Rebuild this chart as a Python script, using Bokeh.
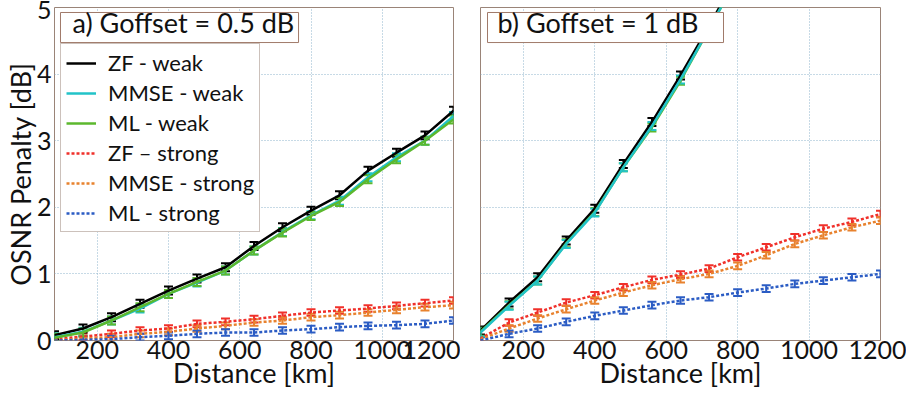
from bokeh.plotting import figure
from bokeh.layouts import row
from bokeh.models import Label, Legend, LegendItem, Whisker, ColumnDataSource, TeeHead, FixedTicker, BoxAnnotation
from bokeh.embed import file_html
from bokeh.resources import INLINE

distance = [80, 160, 240, 320, 400, 480, 560, 640, 720, 800, 880, 960, 1040, 1120, 1200]

# panel a) Goffset = 0.5 dB
a_zf_weak = [0.08, 0.18, 0.35, 0.55, 0.75, 0.93, 1.10, 1.42, 1.70, 1.95, 2.18, 2.55, 2.82, 3.08, 3.45]
a_mmse_weak = [0.05, 0.13, 0.30, 0.48, 0.70, 0.87, 1.05, 1.35, 1.63, 1.88, 2.10, 2.45, 2.75, 3.00, 3.37]
a_ml_weak = [0.04, 0.12, 0.30, 0.50, 0.70, 0.88, 1.05, 1.35, 1.62, 1.87, 2.08, 2.42, 2.72, 3.00, 3.32]
a_zf_strong = [0.02, 0.06, 0.10, 0.15, 0.18, 0.25, 0.28, 0.32, 0.37, 0.42, 0.45, 0.48, 0.52, 0.56, 0.60]
a_mmse_strong = [0.00, 0.03, 0.05, 0.10, 0.13, 0.18, 0.22, 0.27, 0.30, 0.35, 0.38, 0.42, 0.46, 0.50, 0.53]
a_ml_strong = [0.00, 0.01, 0.02, 0.05, 0.07, 0.10, 0.12, 0.12, 0.15, 0.17, 0.20, 0.22, 0.23, 0.25, 0.30]

# panel b) Goffset = 1 dB
b_weak_distance = [80, 160, 240, 320, 400, 480, 560, 640, 720, 800]
b_zf_weak = [0.15, 0.57, 0.95, 1.50, 1.98, 2.65, 3.28, 3.98, 4.72, 5.50]
b_mmse_weak = [0.12, 0.52, 0.90, 1.45, 1.92, 2.60, 3.22, 3.92, 4.68, 5.45]
b_ml_weak = [0.13, 0.53, 0.90, 1.46, 1.93, 2.60, 3.20, 3.90, 4.68, 5.45]
b_zf_strong = [0.03, 0.27, 0.42, 0.57, 0.68, 0.80, 0.91, 0.99, 1.08, 1.25, 1.40, 1.55, 1.68, 1.78, 1.90]
b_mmse_strong = [0.02, 0.18, 0.33, 0.47, 0.60, 0.72, 0.83, 0.92, 1.00, 1.12, 1.28, 1.45, 1.58, 1.70, 1.80]
b_ml_strong = [0.00, 0.10, 0.18, 0.28, 0.37, 0.45, 0.53, 0.60, 0.65, 0.72, 0.78, 0.85, 0.90, 0.95, 1.00]

err_weak = 0.06
err_strong = 0.05

names = ["ZF - weak", "MMSE - weak", "ML - weak", "ZF \u2013 strong", "MMSE - strong", "ML - strong"]
colors = ["#000000", "#22c3c8", "#5cb82e", "#f0302a", "#e8822e", "#2b5cc4"]
dashes = ["solid", "solid", "solid", "3 2", "3 2", "3 2"]
titles = ["a) Goffset = 0.5 dB", "b) Goffset = 1 dB"]
x_label = "Distance [km]"
y_label = "OSNR Penalty [dB]"

FONT = "Lato"
FRAME = "#9a8478"
x_ticks = [200, 400, 600, 800, 1000, 1200]
y_ticks = [0, 1, 2, 3, 4, 5]


def make_fig(width, left, right, show_y):
    p = figure(width=width, height=396, x_range=(80, 1200), y_range=(0, 5),
               output_backend="svg", toolbar_location=None,
               min_border_left=left, min_border_right=right,
               min_border_top=7, min_border_bottom=56)
    p.outline_line_color = FRAME
    p.outline_line_width = 1
    p.background_fill_color = "white"
    p.border_fill_color = "white"
    p.xaxis.ticker = FixedTicker(ticks=x_ticks)
    p.yaxis.ticker = FixedTicker(ticks=y_ticks)
    for ax in [p.xaxis[0], p.yaxis[0]]:
        ax.axis_line_color = None
        ax.major_tick_line_color = None
        ax.minor_tick_line_color = None
        ax.major_tick_out = 0
        ax.major_tick_in = 0
        ax.minor_tick_out = 0
        ax.minor_tick_in = 0
        ax.major_label_text_font = FONT
        ax.major_label_text_font_size = "25px"
        ax.major_label_text_color = "#111111"
        ax.axis_label_text_font = FONT
        ax.axis_label_text_font_size = "27px"
        ax.axis_label_text_font_style = "normal"
        ax.axis_label_text_color = "#111111"
    p.xaxis.axis_label = x_label
    p.xaxis.major_label_standoff = 0
    p.xaxis.axis_label_standoff = -6
    if show_y:
        p.yaxis.axis_label = y_label
        p.yaxis.major_label_standoff = 3
        p.yaxis.axis_label_standoff = -3
    else:
        p.yaxis.visible = False
    p.grid.grid_line_color = "#8fb4cc"
    p.grid.grid_line_dash = "1 2"
    p.grid.grid_line_width = 1
    return p


def add_series(p, xs, ys, color, dash, err):
    src = ColumnDataSource(dict(x=xs, y=ys, lo=[v - err for v in ys], hi=[v + err for v in ys]))
    r = p.line("x", "y", source=src, line_color=color, line_width=2.5, line_dash=dash)
    w = Whisker(base="x", lower="lo", upper="hi", source=src, line_color=color, line_width=2,
                upper_head=TeeHead(size=9, line_color=color, line_width=2),
                lower_head=TeeHead(size=9, line_color=color, line_width=2))
    p.add_layout(w)
    return r


def add_title(p, text, box_left, box_right, text_x):
    p.add_layout(BoxAnnotation(left=box_left, right=box_right, bottom=4.474, top=4.925,
                               fill_color="white", fill_alpha=1,
                               line_color="#a07a6a", line_width=1, line_alpha=1))
    p.add_layout(Label(x=text_x, y=318, x_units="screen", y_units="screen",
                       text=text, text_font=FONT, text_font_size="27px",
                       text_color="#111111", text_baseline="alphabetic"))


# ---- panel a
pa = make_fig(460, 54, 7, True)
series_a = [a_zf_weak, a_mmse_weak, a_ml_weak, a_zf_strong, a_mmse_strong, a_ml_strong]
order = [3, 4, 5, 0, 1, 2]
rmap = {}
for i in order:
    err = err_weak if i < 3 else err_strong
    rmap[i] = add_series(pa, distance, series_a[i], colors[i], dashes[i], err)
add_title(pa, titles[0], 96.8, 765, 18)
items = [LegendItem(label=names[i], renderers=[rmap[i]]) for i in range(6)]
legend = Legend(items=items, location=(6, 108), orientation="vertical",
                label_text_font=FONT, label_text_font_size="22px", label_text_color="#111111",
                glyph_width=30, glyph_height=26, label_height=26, spacing=3,
                padding=5, margin=0, label_standoff=12,
                border_line_color=FRAME, border_line_width=1,
                background_fill_color="white", background_fill_alpha=1)
pa.add_layout(legend, "center")

# ---- panel b
pb = make_fig(446, 20, 26, False)
weak_b = [b_zf_weak, b_mmse_weak, b_ml_weak]
strong_b = [b_zf_strong, b_mmse_strong, b_ml_strong]
for i in [3, 4, 5]:
    add_series(pb, distance, strong_b[i - 3], colors[i], dashes[i], err_strong)
for i in [0, 2, 1]:
    add_series(pb, b_weak_distance, weak_b[i], colors[i], dashes[i], err_weak)
add_title(pb, titles[1], 99.6, 760.4, 17)

layout = row(pa, pb, spacing=0)
open("out.html", "w").write(file_html(layout, INLINE))
